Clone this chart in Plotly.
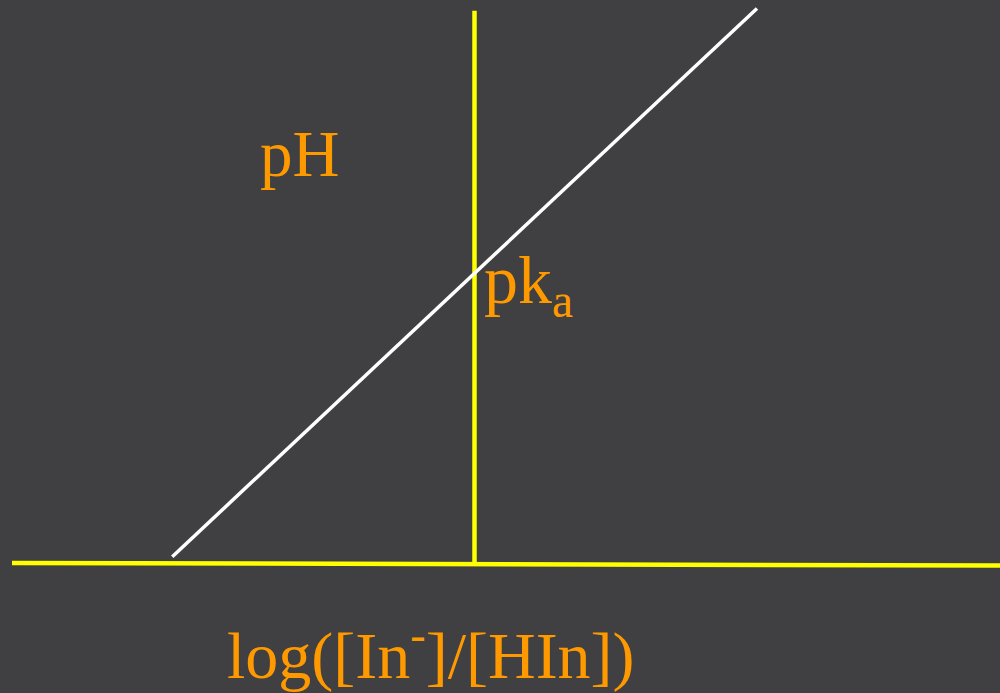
import plotly.graph_objects as go

# Henderson–Hasselbalch: pH = pKa + log([In-]/[HIn])
pKa = 4.0
log_ratio = [-3.90, 3.645]
pH_values = [pKa + v for v in log_ratio]

# axis lines drawn as data (x = log ratio, y = pH)
h_axis_x = [-5.968, 6.80]
h_axis_y = [0.014, -0.021]
v_axis_x = [0.0, 0.0]
v_axis_y = [0.0, 7.614]

x_range = [-6.123, 6.781]
y_range = [-1.775, 7.761]

bg = "#404042"
orange = "#FF9900"
serif = "'Times New Roman', 'Liberation Serif', serif"

fig = go.Figure()
fig.add_trace(go.Scatter(x=h_axis_x, y=h_axis_y, mode="lines",
                         line=dict(color="#FFFF00", width=4.5), hoverinfo="skip"))
fig.add_trace(go.Scatter(x=v_axis_x, y=v_axis_y, mode="lines",
                         line=dict(color="#FFFF00", width=4.5), hoverinfo="skip"))
fig.add_trace(go.Scatter(x=log_ratio, y=pH_values, mode="lines",
                         line=dict(color="#FFFFFF", width=3.5), hoverinfo="skip"))

fig.add_annotation(text="pH", xref="paper", yref="paper", x=0.258, y=1 - 154 / 693,
                   xanchor="left", yanchor="middle", showarrow=False,
                   font=dict(family=serif, size=65, color=orange))
fig.add_annotation(text="pk<sub>a</sub>", xref="paper", yref="paper", x=0.482, y=1 - 285 / 693,
                   xanchor="left", yanchor="middle", showarrow=False,
                   font=dict(family=serif, size=68, color=orange))
fig.add_annotation(text="log([In<sup>-</sup>]/[HIn])", xref="paper", yref="paper", x=0.431, y=1 - 651 / 693,
                   xanchor="center", yanchor="middle", showarrow=False,
                   font=dict(family=serif, size=66, color=orange))

fig.update_layout(
    width=1000, height=693,
    margin=dict(l=0, r=0, t=0, b=0),
    paper_bgcolor=bg, plot_bgcolor=bg,
    showlegend=False,
    xaxis=dict(range=x_range, visible=False, fixedrange=True),
    yaxis=dict(range=y_range, visible=False, fixedrange=True),
)

fig.write_html("out.html", config={"displayModeBar": False})
